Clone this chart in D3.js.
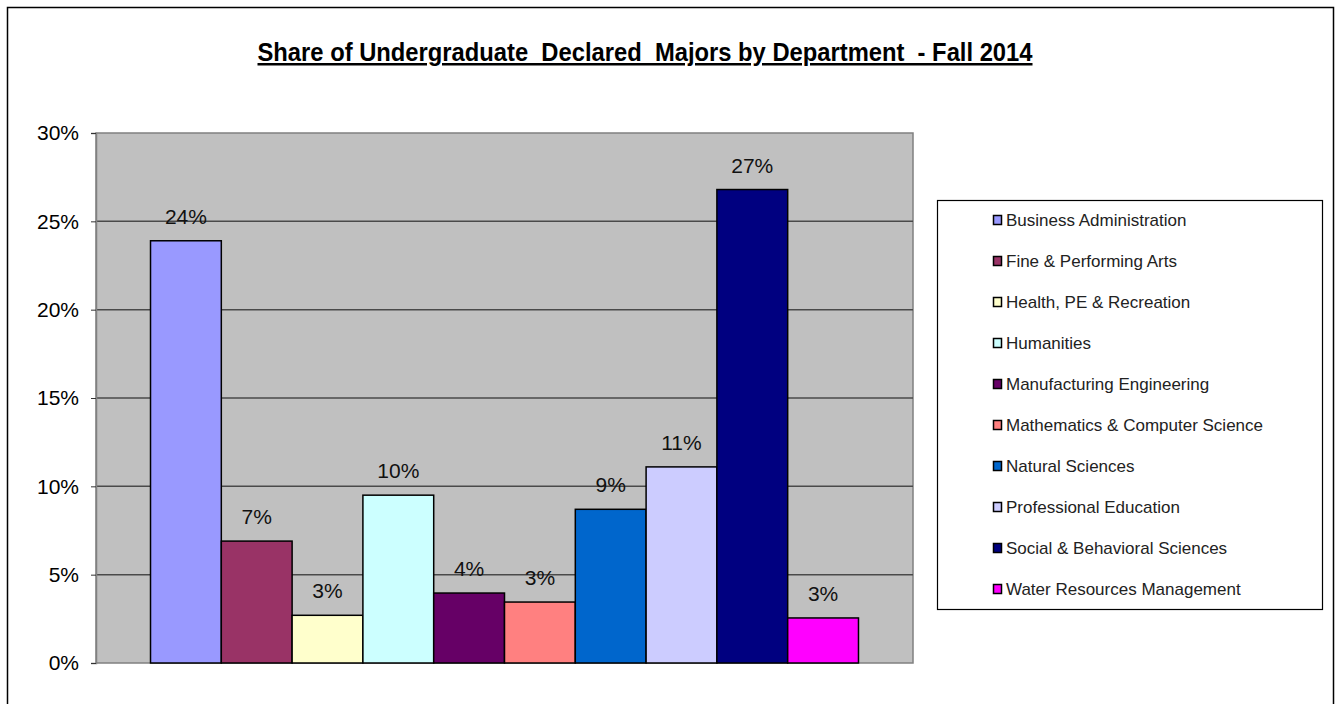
<!DOCTYPE html>
<html>
<head>
<meta charset="utf-8">
<script src="https://cdn.jsdelivr.net/npm/d3@7"></script>
<style>
  body { margin: 0; background: #fff; }
  svg { display: block; font-family: "Liberation Sans", Arial, sans-serif; }
</style>
</head>
<body>
<svg id="chart"></svg>
<script>
// Chart data
const departments = [
	"Business Administration",
	"Fine & Performing Arts",
	"Health, PE & Recreation",
	"Humanities",
	"Manufacturing Engineering",
	"Mathematics & Computer Science",
	"Natural Sciences",
	"Professional Education",
	"Social & Behavioral Sciences",
	"Water Resources Management"
];
const shares = [23.9, 6.9, 2.7, 9.5, 3.96, 3.45, 8.7, 11.1, 26.8, 2.55];
const colors = ["#9999ff", "#993366", "#ffffcc", "#ccffff", "#660066",
	"#ff8080", "#0066cc", "#ccccff", "#000080", "#ff00ff"];
const yTicks = [0, 5, 10, 15, 20, 25, 30];

const svgWidth = 1343;
const svgHeight = 704;
const plot = {left: 96, right: 913, top: 133, bottom: 663};

const svg = d3.select('#chart')
	.attr('width', svgWidth)
	.attr('height', svgHeight);

// Outer chart border
svg.append("rect")
	.attr("x", 7.5).attr("y", 7.5)
	.attr("width", 1326).attr("height", 720)
	.attr("fill", "none")
	.attr("stroke", "#000")
	.attr("stroke-width", 1.5);

// Title (keep the double spaces)
svg.append("text")
	.attr("x", 645).attr("y", 61)
	.attr("text-anchor", "middle")
	.attr("font-size", 25)
	.attr("font-weight", "bold")
	.attr("text-decoration", "underline")
	.attr("textLength", 775)
	.attr("lengthAdjust", "spacingAndGlyphs")
	.style("white-space", "pre")
	.text("Share of Undergraduate  Declared  Majors by Department  - Fall 2014");

const scaleX = d3.scaleBand()
	.domain(departments)
	.range([plot.left, plot.right])
	.paddingInner(0)
	.paddingOuter(0.77);

const scaleY = d3.scaleLinear()
	.domain([0, 30])
	.range([plot.bottom, plot.top]);

// Plot background
svg.append("rect")
	.attr("x", plot.left).attr("y", plot.top)
	.attr("width", plot.right - plot.left)
	.attr("height", plot.bottom - plot.top)
	.attr("fill", "#c0c0c0")
	.attr("stroke", "#808080")
	.attr("stroke-width", 1.5);

// Gridlines
svg.append("g")
	.selectAll("line")
	.data(yTicks.filter(d => d > 0 && d < 30))
	.join("line")
	.attr("x1", plot.left).attr("x2", plot.right)
	.attr("y1", d => scaleY(d)).attr("y2", d => scaleY(d))
	.attr("stroke", "#4a4a4a")
	.attr("stroke-width", 1.5);

// Y axis
svg.append("g")
	.attr("transform", `translate(${plot.left}, 0)`)
	.call(d3.axisLeft(scaleY)
		.tickValues(yTicks)
		.tickSize(5)
		.tickPadding(12)
		.tickFormat(d => d + "%"))
	.call(g => g.select(".domain").attr("stroke", "#808080").attr("stroke-width", 1.5))
	.call(g => g.selectAll(".tick line").attr("stroke", "#333"))
	.call(g => g.selectAll(".tick text")
		.attr("font-size", 21)
		.attr("font-family", "Liberation Sans, Arial, sans-serif")
		.attr("fill", "#000"));

// Bars
svg.append("g")
	.selectAll("rect")
	.data(departments)
	.join("rect")
	.attr("x", d => scaleX(d))
	.attr("y", (d, i) => scaleY(shares[i]))
	.attr("width", scaleX.bandwidth())
	.attr("height", (d, i) => scaleY(0) - scaleY(shares[i]))
	.attr("fill", (d, i) => colors[i])
	.attr("stroke", "#000")
	.attr("stroke-width", 1.5);

// Value labels
svg.append("g")
	.selectAll("text")
	.data(departments)
	.join("text")
	.attr("x", d => scaleX(d) + scaleX.bandwidth() / 2)
	.attr("y", (d, i) => scaleY(shares[i]) - 17)
	.attr("text-anchor", "middle")
	.attr("font-size", 21)
	.attr("fill", "#111")
	.text((d, i) => Math.round(shares[i]) + "%");

// Legend
const legend = svg.append("g");
legend.append("rect")
	.attr("x", 937.5).attr("y", 200.5)
	.attr("width", 385).attr("height", 409)
	.attr("fill", "#fff")
	.attr("stroke", "#000")
	.attr("stroke-width", 1.2);

const items = legend.selectAll("g")
	.data(departments)
	.join("g")
	.attr("transform", (d, i) => `translate(993, ${220 + i * 41})`);

items.append("rect")
	.attr("x", 0.5).attr("y", -4.5)
	.attr("width", 8).attr("height", 9)
	.attr("fill", (d, i) => colors[i])
	.attr("stroke", "#000")
	.attr("stroke-width", 1.5);

items.append("text")
	.attr("x", 13).attr("y", 6)
	.attr("font-size", 17)
	.attr("fill", "#222")
	.text(d => d);
</script>
</body>
</html>
